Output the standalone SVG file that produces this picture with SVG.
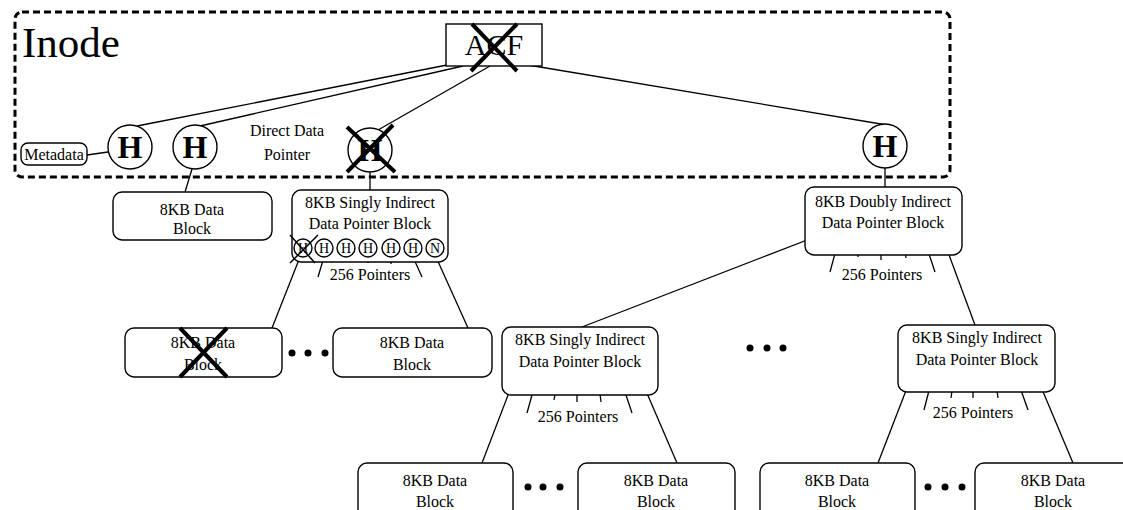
<svg xmlns="http://www.w3.org/2000/svg" width="1123" height="510" viewBox="0 0 1123 510">
<style>
text{font-family:"Liberation Serif","Times New Roman",serif;fill:#000}
.t{font-size:16px;text-anchor:middle}
.box{fill:#fff;stroke:#000;stroke-width:1.4}
.ln{stroke:#000;stroke-width:1.3;fill:none}
.x{stroke:#000;stroke-width:4;stroke-linecap:butt}
.hc{fill:#fff;stroke:#000;stroke-width:1.4}
.h{font-size:32px;font-weight:bold;text-anchor:middle}
.sh{font-size:14px;text-anchor:middle}
.dot{fill:#000}
</style>
<rect width="1123" height="510" fill="#fff"/>
<g id="inode">
<rect x="15" y="12" width="935" height="165" rx="7" fill="none" stroke="#000" stroke-width="3" stroke-dasharray="7 4"/>
<text x="22" y="57" font-size="43">Inode</text>
</g>
<g id="connectors">
<line class="ln" x1="447" y1="65" x2="137" y2="126"/>
<line class="ln" x1="463" y1="66" x2="200" y2="126"/>
<line class="ln" x1="490" y1="66" x2="378" y2="130"/>
<line class="ln" x1="528" y1="65" x2="887" y2="125"/>
<line class="ln" x1="87" y1="155" x2="108" y2="152"/>
<line class="ln" x1="192" y1="169" x2="185" y2="192"/>
<line class="ln" x1="370" y1="172" x2="370" y2="190"/>
<line class="ln" x1="885" y1="168" x2="885" y2="187"/>
<line class="ln" x1="300" y1="257" x2="272" y2="328"/>
<line class="ln" x1="436" y1="257" x2="468" y2="328"/>
<line class="ln" x1="324" y1="257" x2="318" y2="277"/>
<line class="ln" x1="346" y1="257" x2="345" y2="262"/>
<line class="ln" x1="368" y1="257" x2="368" y2="263"/>
<line class="ln" x1="391" y1="257" x2="391" y2="264"/>
<line class="ln" x1="413" y1="257" x2="422" y2="277"/>
<line class="ln" x1="820" y1="235" x2="582" y2="327"/>
<line class="ln" x1="840" y1="235" x2="830" y2="272"/>
<line class="ln" x1="862" y1="235" x2="858" y2="257"/>
<line class="ln" x1="881" y1="237" x2="881" y2="260"/>
<line class="ln" x1="903" y1="235" x2="906" y2="258"/>
<line class="ln" x1="923" y1="236" x2="935" y2="272"/>
<line class="ln" x1="942" y1="236" x2="975" y2="325"/>
<line class="ln" x1="515" y1="377" x2="482" y2="463"/>
<line class="ln" x1="537" y1="377" x2="527" y2="413"/>
<line class="ln" x1="558" y1="377" x2="554" y2="400"/>
<line class="ln" x1="577" y1="378" x2="577" y2="402"/>
<line class="ln" x1="598" y1="377" x2="601" y2="402"/>
<line class="ln" x1="620" y1="377" x2="632" y2="413"/>
<line class="ln" x1="640" y1="377" x2="677" y2="463"/>
<line class="ln" x1="912" y1="375" x2="878" y2="463"/>
<line class="ln" x1="933" y1="375" x2="924" y2="410"/>
<line class="ln" x1="954" y1="376" x2="951" y2="398"/>
<line class="ln" x1="973" y1="376" x2="973" y2="398"/>
<line class="ln" x1="995" y1="376" x2="998" y2="398"/>
<line class="ln" x1="1016" y1="376" x2="1028" y2="410"/>
<line class="ln" x1="1036" y1="375" x2="1073" y2="463"/>
</g>
<g id="acf">
<rect x="446" y="24" width="96" height="42" fill="#fff" stroke="#000" stroke-width="1.4"/>
<text x="494" y="55" font-size="30" text-anchor="middle">ACF</text>
<line class="x" x1="472" y1="24" x2="517" y2="71"/>
<line class="x" x1="517" y1="24" x2="471" y2="71"/>
</g>
<g id="metadata">
<rect x="21" y="143" width="66" height="22" rx="7" class="box"/>
<text x="54" y="160" font-size="16" text-anchor="middle">Metadata</text>
</g>
<g id="h1"><circle cx="130" cy="147" r="22" class="hc"/><text class="h" x="130" y="158">H</text></g>
<g id="h2"><circle cx="195" cy="147" r="22" class="hc"/><text class="h" x="195" y="158">H</text></g>
<g id="direct-label">
<text class="t" x="287" y="136">Direct Data</text>
<text class="t" x="287" y="160">Pointer</text>
</g>
<g id="h3"><circle cx="370" cy="150" r="22" class="hc"/><text class="h" x="370" y="161">H</text>
<line class="x" x1="347" y1="127" x2="395" y2="172"/><line class="x" x1="393" y1="125" x2="347" y2="172"/></g>
<g id="h4"><circle cx="885" cy="146" r="22" class="hc"/><text class="h" x="885" y="157">H</text></g>
<g id="data1">
<rect x="113" y="192" width="159" height="48" rx="9" class="box"/>
<text class="t" x="192" y="215">8KB Data</text>
<text class="t" x="192" y="234">Block</text>
</g>
<g id="singly1">
<rect x="292" y="190" width="156" height="72" rx="9" class="box"/>
<text class="t" x="370" y="208">8KB Singly Indirect</text>
<text class="t" x="370" y="229">Data Pointer Block</text>
<circle cx="303" cy="248" r="9" class="hc"/><text class="sh" x="303" y="253">H</text>
<circle cx="324" cy="248" r="9" class="hc"/><text class="sh" x="324" y="253">H</text>
<circle cx="346" cy="248" r="9" class="hc"/><text class="sh" x="346" y="253">H</text>
<circle cx="368" cy="248" r="9" class="hc"/><text class="sh" x="368" y="253">H</text>
<circle cx="391" cy="248" r="9" class="hc"/><text class="sh" x="391" y="253">H</text>
<circle cx="413" cy="248" r="9" class="hc"/><text class="sh" x="413" y="253">H</text>
<circle cx="435" cy="248" r="9" class="hc"/><text class="sh" x="435" y="253">N</text>
<line stroke="#000" stroke-width="1.5" x1="290" y1="235" x2="315" y2="263"/>
<line stroke="#000" stroke-width="1.5" x1="318" y1="235" x2="290" y2="263"/>
<text class="t" x="370" y="280">256 Pointers</text>
</g>
<g id="data2-crossed">
<rect x="125" y="328" width="157" height="49" rx="9" class="box"/>
<text class="t" x="203" y="348">8KB Data</text>
<text class="t" x="203" y="370">Block</text>
<line class="x" x1="180" y1="328" x2="227" y2="377"/>
<line class="x" x1="227" y1="328" x2="180" y2="377"/>
</g>
<g id="dots1"><circle class="dot" cx="292" cy="353" r="3.5"/><circle class="dot" cx="308" cy="353" r="3.5"/><circle class="dot" cx="325" cy="353" r="3.5"/></g>
<g id="data3">
<rect x="333" y="328" width="159" height="49" rx="9" class="box"/>
<text class="t" x="412" y="348">8KB Data</text>
<text class="t" x="412" y="370">Block</text>
</g>
<g id="doubly">
<rect x="805" y="187" width="157" height="68" rx="9" class="box"/>
<text class="t" x="883" y="207">8KB Doubly Indirect</text>
<text class="t" x="883" y="228">Data Pointer Block</text>
<text class="t" x="882" y="280">256 Pointers</text>
</g>
<g id="singly2">
<rect x="502" y="327" width="156" height="68" rx="9" class="box"/>
<text class="t" x="580" y="345">8KB Singly Indirect</text>
<text class="t" x="580" y="367">Data Pointer Block</text>
<text class="t" x="578" y="422">256 Pointers</text>
</g>
<g id="dots2"><circle class="dot" cx="750" cy="348" r="3.5"/><circle class="dot" cx="767" cy="348" r="3.5"/><circle class="dot" cx="783" cy="348" r="3.5"/></g>
<g id="singly3">
<rect x="898" y="325" width="157" height="67" rx="9" class="box"/>
<text class="t" x="977" y="343">8KB Singly Indirect</text>
<text class="t" x="977" y="365">Data Pointer Block</text>
<text class="t" x="973" y="418">256 Pointers</text>
</g>
<g id="data4">
<rect x="358" y="463" width="155" height="60" rx="9" class="box"/>
<text class="t" x="435" y="486">8KB Data</text>
<text class="t" x="435" y="507">Block</text>
</g>
<g id="dots3"><circle class="dot" cx="528" cy="487" r="3.5"/><circle class="dot" cx="543" cy="487" r="3.5"/><circle class="dot" cx="560" cy="487" r="3.5"/></g>
<g id="data5">
<rect x="578" y="463" width="157" height="60" rx="9" class="box"/>
<text class="t" x="656" y="486">8KB Data</text>
<text class="t" x="656" y="507">Block</text>
</g>
<g id="data6">
<rect x="760" y="463" width="155" height="60" rx="9" class="box"/>
<text class="t" x="837" y="486">8KB Data</text>
<text class="t" x="837" y="507">Block</text>
</g>
<g id="dots4"><circle class="dot" cx="928" cy="487" r="3.5"/><circle class="dot" cx="945" cy="487" r="3.5"/><circle class="dot" cx="962" cy="487" r="3.5"/></g>
<g id="data7">
<rect x="975" y="463" width="157" height="60" rx="9" class="box"/>
<text class="t" x="1053" y="486">8KB Data</text>
<text class="t" x="1053" y="507">Block</text>
</g>
</svg>
